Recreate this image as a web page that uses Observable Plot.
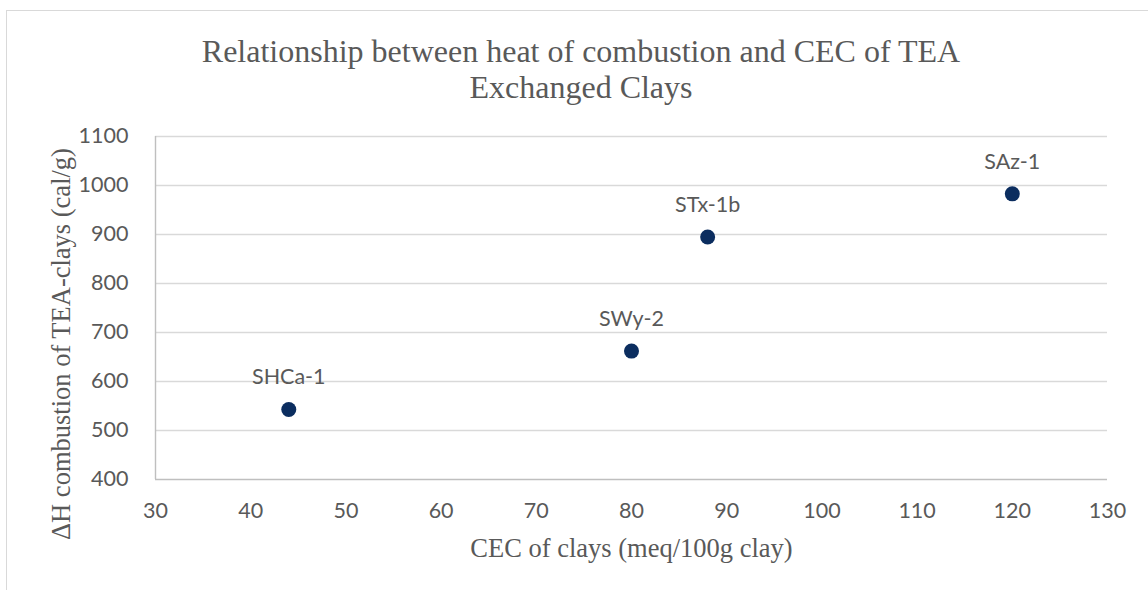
<!DOCTYPE html>
<html>
<head>
<meta charset="utf-8">
<script src="https://cdn.jsdelivr.net/npm/d3@7"></script>
<script src="https://cdn.jsdelivr.net/npm/@observablehq/plot@0.6"></script>
<style>
  html, body { margin: 0; padding: 0; background: #fff; }
  #chart { position: relative; width: 1148px; height: 590px; overflow: hidden; }
  #frame { position: absolute; left: 6px; top: 10px; width: 1200px; height: 650px; border: 1px solid #d9d9d9; box-sizing: border-box; }
  #title { position: absolute; left: 6px; top: 33px; width: 1150px; text-align: center;
           font-family: "Liberation Serif", "Times New Roman", serif; font-size: 32px; line-height: 36px; color: #595959; }
  #plot { position: absolute; left: 0; top: 0; }
</style>
</head>
<body>
<div id="chart">
  <div id="frame"></div>
  <div id="plot"></div>
  <div id="title">Relationship between heat of combustion and CEC of TEA<br>Exchanged Clays</div>
</div>
<script>
const clays = ["SHCa-1", "SWy-2", "STx-1b", "SAz-1"];
const cec = [44, 80, 88, 120];
const heat = [543, 662, 895, 983];
const xTicks = [30, 40, 50, 60, 70, 80, 90, 100, 110, 120, 130];
const yTicks = [400, 500, 600, 700, 800, 900, 1000, 1100];
const xTitle = "CEC of clays (meq/100g clay)";
const yTitle = "ΔH combustion of TEA-clays (cal/g)";

const data = clays.map((c, i) => ({clay: c, cec: cec[i], heat: heat[i]}));
const gray = "#595959";
const tickFont = "Lato, 'Noto Sans', sans-serif";
const serif = "'Liberation Serif', 'Times New Roman', serif";

const chart = Plot.plot({
  width: 1148,
  height: 590,
  marginLeft: 155,
  marginRight: 41,
  marginTop: 136,
  marginBottom: 111,
  style: {background: "transparent", color: gray},
  x: {domain: [30, 130], ticks: xTicks},
  y: {domain: [400, 1100], ticks: yTicks},
  marks: [
    Plot.gridY(yTicks.slice(1), {stroke: "#d9d9d9", strokeOpacity: 1, strokeWidth: 1.4}),
    Plot.ruleY([yTicks[0]], {stroke: "#bfbfbf", strokeWidth: 1.4}),
    Plot.ruleX([xTicks[0]], {y1: yTicks[0], y2: yTicks[yTicks.length - 1], stroke: "#bfbfbf", strokeWidth: 1.4}),
    Plot.axisX({ticks: xTicks, tickSize: 0, tickPadding: 23, fontSize: 21.5, fontFamily: tickFont, fill: gray, label: null, tickFormat: d => String(d)}),
    Plot.axisY({ticks: yTicks, tickSize: 0, tickPadding: 27, fontSize: 21.5, fontFamily: tickFont, fill: gray, label: null, tickFormat: d => String(d)}),
    Plot.dot(data, {x: "cec", y: "heat", r: 7.5, fill: "#0b2d5f", stroke: "none"}),
    Plot.text(data, {x: "cec", y: "heat", text: "clay", dy: -32, fontSize: 21.5, fontFamily: tickFont, fill: gray, lineAnchor: "middle"}),
    Plot.text([xTitle], {frameAnchor: "bottom", dy: 69, fontSize: 26.5, fontFamily: serif, fill: gray, lineAnchor: "middle"}),
    Plot.text([yTitle], {frameAnchor: "left", dx: -94, dy: 36, rotate: -90, textAnchor: "middle", fontSize: 26.5, fontFamily: serif, fill: gray, lineAnchor: "middle"})
  ]
});
document.getElementById("plot").appendChild(chart);
</script>
</body>
</html>
